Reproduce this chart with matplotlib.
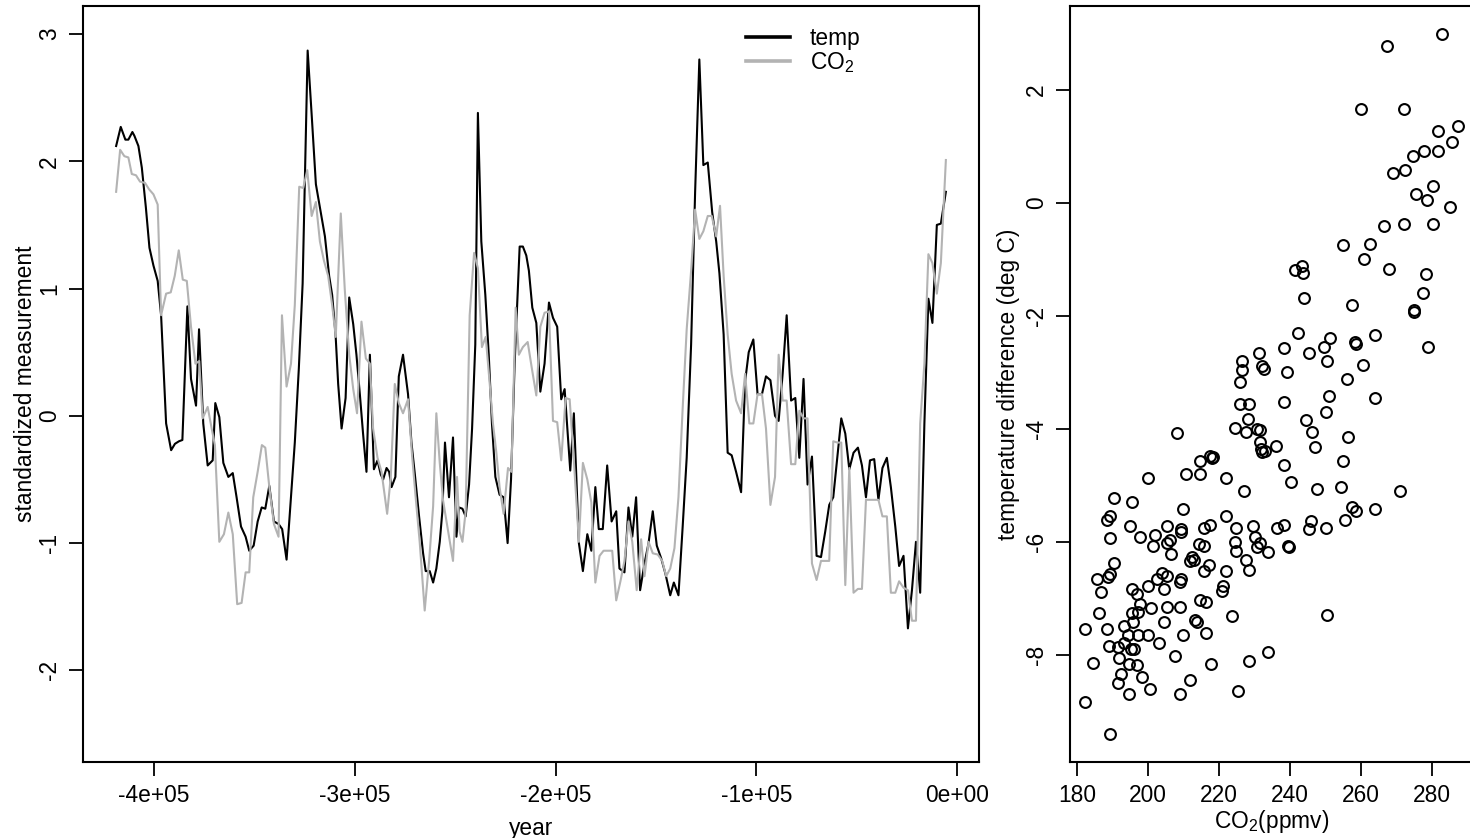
import numpy as np
import matplotlib
matplotlib.use("Agg")
import matplotlib.pyplot as plt
from matplotlib.lines import Line2D

plt.rcParams['font.family'] = ['Liberation Sans', 'DejaVu Sans']
plt.rcParams['mathtext.fontset'] = 'custom'
plt.rcParams['mathtext.rm'] = 'Liberation Sans'
plt.rcParams['mathtext.it'] = 'Liberation Sans:italic'
plt.rcParams['axes.unicode_minus'] = False

# --- left panel: standardized series (years in kyr) ---
temp_kyr = [-418.9, -416.6, -414.3, -412.8, -410.8, -409.8, -407.8, -406.1, -404.1, -402.3,
            -400.3, -398.2, -396.5, -394.0, -391.5, -389.6, -387.6, -385.9, -383.4, -381.6,
            -379.1, -377.6, -375.5, -373.3, -370.8, -369.5, -367.5, -365.5, -363.0, -360.8,
            -358.9, -356.7, -354.4, -352.6, -350.4, -348.4, -346.4, -344.6, -342.6, -340.3,
            -338.0, -336.2, -334.0, -331.8, -329.9, -327.9, -326.0, -323.5, -321.4, -319.4,
            -317.4, -314.9, -312.8, -311.3, -309.6, -308.3, -306.6, -304.6, -302.8, -300.8,
            -299.2, -297.5, -295.9, -294.2, -292.5, -290.5, -288.7, -287.1, -285.9, -284.2,
            -282.9, -281.7, -279.8, -278.1, -276.0, -273.5, -271.8, -270.1, -268.0, -266.0,
            -264.7, -262.7, -261.0, -259.4, -257.7, -256.4, -255.1, -253.1, -251.1, -249.4,
            -248.1, -246.4, -244.8, -243.1, -241.6, -240.0, -238.7, -237.0, -235.0, -233.3,
            -231.7, -230.0, -227.9, -225.9, -223.9, -222.2, -220.4, -217.9, -216.3, -214.6,
            -213.3, -211.6, -209.6, -207.6, -205.5, -203.3, -201.3, -199.2, -197.2, -195.5,
            -192.7, -190.9, -188.4, -186.4, -184.2, -182.2, -180.2, -178.5, -176.5, -174.3,
            -172.1, -169.8, -168.2, -165.7, -163.7, -161.8, -159.9, -157.9, -155.7, -153.7,
            -151.6, -149.6, -147.4, -145.3, -142.9, -141.1, -138.8, -136.7, -134.7, -132.5,
            -130.5, -128.4, -126.4, -124.2, -122.0, -120.0, -118.4, -116.3, -114.3, -112.3,
            -110.1, -107.6, -105.6, -103.8, -101.5, -99.4, -97.2, -95.2, -93.0, -90.7,
            -88.9, -86.9, -84.9, -82.7, -80.6, -78.6, -76.5, -74.5, -72.3, -70.0,
            -67.8, -65.7, -63.7, -61.7, -59.7, -57.7, -55.7, -53.7, -51.6, -49.4,
            -47.4, -45.4, -43.4, -41.3, -39.2, -37.2, -35.0, -33.0, -30.8, -28.9,
            -26.7, -24.5, -22.5, -20.5, -18.4, -16.3, -14.3, -12.3, -10.1, -8.1,
            -5.6]
temp_std = [2.12, 2.27, 2.17, 2.17, 2.23, 2.20, 2.12, 1.95, 1.64, 1.32,
            1.18, 1.06, 0.79, -0.06, -0.27, -0.22, -0.20, -0.19, 0.86, 0.29,
            0.08, 0.68, -0.06, -0.39, -0.35, 0.10, -0.01, -0.37, -0.48, -0.45,
            -0.64, -0.87, -0.95, -1.06, -1.02, -0.83, -0.72, -0.73, -0.55, -0.83,
            -0.85, -0.89, -1.13, -0.64, -0.21, 0.37, 1.04, 2.87, 2.34, 1.82,
            1.64, 1.41, 1.10, 0.95, 0.64, 0.25, -0.10, 0.14, 0.93, 0.72,
            0.48, 0.17, -0.14, -0.44, 0.48, -0.42, -0.35, -0.46, -0.50, -0.41,
            -0.44, -0.56, -0.48, 0.31, 0.48, 0.17, -0.21, -0.46, -0.79, -1.08,
            -1.22, -1.22, -1.31, -1.20, -0.99, -0.75, -0.21, -0.64, -0.17, -0.95,
            -0.72, -0.73, -0.79, -0.54, -0.10, 0.56, 2.38, 1.37, 0.95, 0.48,
            -0.06, -0.48, -0.62, -0.64, -1.00, -0.50, 0.41, 1.33, 1.33, 1.26,
            1.14, 0.85, 0.73, 0.19, 0.41, 0.89, 0.77, 0.70, 0.13, 0.21,
            -0.43, 0.02, -1.00, -1.22, -0.93, -1.06, -0.56, -0.89, -0.89, -0.39,
            -0.83, -0.75, -1.20, -1.23, -0.72, -0.95, -0.64, -1.37, -1.16, -1.00,
            -0.75, -1.02, -1.12, -1.24, -1.41, -1.31, -1.41, -0.87, -0.33, 0.56,
            1.76, 2.80, 1.97, 1.99, 1.60, 1.37, 1.12, 0.64, -0.29, -0.31,
            -0.44, -0.60, 0.27, 0.50, 0.60, 0.17, 0.17, 0.31, 0.28, 0.00,
            -0.04, 0.33, 0.79, 0.12, 0.14, -0.33, 0.29, -0.54, -0.32, -1.10,
            -1.11, -0.91, -0.70, -0.64, -0.33, -0.02, -0.14, -0.42, -0.29, -0.25,
            -0.39, -0.64, -0.35, -0.34, -0.66, -0.41, -0.33, -0.56, -0.87, -1.18,
            -1.10, -1.67, -1.37, -0.99, -1.39, -0.06, 0.92, 0.73, 1.50, 1.51,
            1.76]

co2_kyr = [-418.9, -416.9, -414.8, -412.8, -411.1, -409.0, -407.0, -404.5, -402.5, -400.3,
           -398.2, -396.5, -394.0, -391.7, -389.7, -387.7, -385.7, -383.7, -381.6, -379.4,
           -377.5, -375.8, -373.3, -371.3, -369.7, -367.5, -365.2, -363.0, -360.8, -358.6,
           -356.4, -354.4, -352.6, -350.6, -348.4, -346.3, -344.6, -342.6, -340.3, -338.0,
           -336.3, -334.0, -331.8, -329.9, -327.7, -325.7, -323.7, -321.5, -319.4, -317.4,
           -315.4, -313.3, -311.3, -309.5, -307.0, -305.0, -302.8, -300.8, -298.9, -296.7,
           -294.5, -292.5, -290.9, -288.7, -286.7, -283.9, -282.1, -280.1, -278.1, -276.0,
           -273.5, -271.5, -269.7, -267.7, -265.2, -263.0, -261.0, -259.4, -257.7, -256.1,
           -253.1, -251.1, -249.1, -247.8, -246.4, -244.8, -242.8, -240.6, -238.7, -236.7,
           -234.8, -232.8, -231.2, -229.5, -227.9, -225.9, -223.7, -222.0, -219.9, -218.3,
           -216.3, -213.9, -211.8, -209.6, -207.6, -205.5, -203.3, -201.3, -199.2, -197.2,
           -195.0, -193.0, -190.9, -188.4, -186.4, -184.2, -182.2, -180.2, -178.1, -176.1,
           -174.0, -171.8, -169.8, -167.7, -165.7, -163.7, -161.8, -159.6, -157.4, -155.7,
           -153.7, -151.6, -149.1, -146.9, -144.9, -142.9, -140.8, -138.8, -136.7, -134.7,
           -132.5, -130.5, -128.4, -126.4, -124.2, -122.2, -120.0, -118.1, -116.3, -114.3,
           -112.3, -110.1, -107.6, -105.6, -103.5, -101.5, -99.4, -97.2, -95.2, -93.0,
           -90.7, -88.9, -86.9, -84.9, -82.7, -80.6, -78.6, -76.5, -74.5, -72.3,
           -70.0, -67.8, -65.7, -63.7, -61.7, -59.7, -57.7, -55.7, -53.7, -51.6,
           -49.4, -47.4, -45.4, -43.4, -41.3, -39.2, -37.2, -35.0, -33.0, -30.8,
           -28.9, -26.7, -24.5, -22.5, -20.5, -18.4, -16.3, -14.3, -12.3, -10.1,
           -8.1, -5.6]
co2_std = [1.76, 2.09, 2.04, 2.03, 1.90, 1.89, 1.84, 1.83, 1.78, 1.74,
           1.66, 0.79, 0.96, 0.97, 1.10, 1.30, 1.07, 1.06, 0.70, 0.41,
           0.43, -0.02, 0.07, -0.10, -0.23, -0.99, -0.93, -0.76, -0.93, -1.48,
           -1.47, -1.23, -1.23, -0.64, -0.44, -0.23, -0.25, -0.56, -0.85, -0.95,
           0.79, 0.23, 0.41, 0.87, 1.80, 1.79, 1.93, 1.57, 1.68, 1.37,
           1.22, 1.10, 0.87, 0.62, 1.59, 0.99, 0.48, 0.21, 0.02, 0.74,
           0.45, 0.41, -0.10, -0.33, -0.44, -0.77, -0.48, 0.25, 0.10, 0.02,
           0.13, -0.31, -0.64, -0.99, -1.53, -1.14, -0.71, 0.02, -0.37, -0.66,
           -0.95, -1.14, -0.48, -0.91, -0.99, -0.75, 0.79, 1.28, 1.16, 0.54,
           0.62, 0.25, -0.06, -0.29, -0.56, -0.77, -0.41, -0.44, 0.85, 0.48,
           0.54, 0.58, 0.37, 0.16, 0.70, 0.81, 0.82, -0.04, -0.05, -0.35,
           0.14, 0.13, -0.35, -0.99, -0.37, -0.50, -0.68, -1.31, -1.10, -1.06,
           -1.06, -1.06, -1.45, -1.30, -1.14, -0.83, -0.99, -1.37, -0.97, -1.26,
           -0.99, -1.08, -1.09, -1.14, -1.26, -1.20, -1.04, -0.64, 0.06, 0.68,
           1.14, 1.62, 1.39, 1.45, 1.57, 1.57, 1.41, 1.65, 1.10, 0.64,
           0.33, 0.12, 0.02, 0.33, -0.06, -0.06, 0.17, 0.17, -0.10, -0.70,
           -0.48, 0.48, 0.12, 0.12, -0.38, -0.38, 0.04, -0.02, -0.02, -1.16,
           -1.29, -1.14, -1.14, -1.14, -0.20, -0.21, -0.21, -1.33, -0.41, -1.39,
           -1.36, -1.36, -0.66, -0.66, -0.66, -0.66, -0.79, -0.79, -1.39, -1.39,
           -1.30, -1.35, -1.37, -1.61, -1.61, -0.06, 0.41, 1.27, 1.20, 0.96,
           1.20, 2.01]

year_ticks = [-4e5, -3e5, -2e5, -1e5, 0]
year_tick_labels = ['-4e+05', '-3e+05', '-2e+05', '-1e+05', '0e+00']
std_ticks = [-2, -1, 0, 1, 2, 3]

# --- right panel: scatter of CO2 vs temperature difference ---
co2_ppmv = [231.3, 226.4, 226.4, 232.0, 232.7, 225.9,
            225.9, 228.3, 208.1, 224.5, 227.6, 228.1, 230.6, 231.4, 231.5, 231.8,
            232.2, 233.0, 214.6, 217.3, 217.9, 218.4, 199.9, 210.7, 214.5, 221.9,
            227.1, 190.4, 195.4, 209.8, 189.3, 188.4, 194.9, 221.9, 224.7, 229.4,
            205.4, 209.2, 209.2, 215.6, 217.3, 189.3, 197.7, 202.0, 201.3, 205.4,
            206.2, 206.5, 214.2, 215.8, 230.1, 231.5, 230.8, 233.9, 224.5, 224.7,
            212.3, 213.0, 211.8, 227.6, 228.3, 190.4, 217.2, 215.8, 221.9, 185.7,
            189.3, 188.6, 186.7, 195.4, 197.0, 200.1, 202.4, 204.0, 205.4, 204.5,
            209.2, 209.0, 221.2, 220.8, 197.7, 200.8, 205.3, 209.0, 214.6, 216.2,
            186.3, 195.4, 197.1, 195.7, 193.1, 188.5, 182.3, 204.5, 213.2, 213.9,
            223.6, 194.3, 197.1, 199.9, 209.7, 216.2, 193.2, 189.0, 191.4, 195.2,
            195.9, 203.1, 191.8, 194.5, 196.8, 184.6, 207.6, 217.7, 228.3, 233.9,
            192.4, 191.6, 198.2, 200.6, 194.5, 209.0, 211.8, 225.4, 182.3, 189.3,
            282.7, 267.2, 260.0, 272.1, 281.6, 287.2, 285.7, 277.8, 281.6, 274.5,
            272.4, 269.1, 280.1, 275.5, 278.5, 285.1, 266.5, 272.2, 280.1, 254.8,
            262.5, 260.8, 267.9, 278.3, 277.4, 274.9, 274.9, 241.4, 243.3, 243.6,
            244.0, 257.4, 242.1, 238.3, 245.4, 249.4, 251.3, 250.5, 258.3, 258.5,
            263.9, 278.9, 260.6, 255.9, 239.2, 238.2, 251.0, 263.9, 250.1, 244.5,
            246.1, 256.4, 247.0, 236.0, 238.3, 254.8, 240.2, 247.7, 254.2, 271.0,
            257.3, 258.5, 263.9, 236.2, 238.3, 245.2, 245.9, 250.1, 255.5, 239.4,
            239.6, 250.3]
temp_diff = [-2.66, -2.80, -2.97, -2.89, -2.94, -3.18,
             -3.56, -3.56, -4.08, -3.98, -4.06, -3.83, -4.01, -4.02, -4.24, -4.36,
             -4.42, -4.40, -4.57, -4.48, -4.52, -4.51, -4.88, -4.80, -4.80, -4.88,
             -5.10, -5.23, -5.30, -5.42, -5.54, -5.61, -5.72, -5.55, -5.76, -5.73,
             -5.73, -5.78, -5.83, -5.76, -5.70, -5.93, -5.92, -5.89, -6.07, -6.03,
             -5.97, -6.22, -6.04, -6.07, -5.91, -6.03, -6.10, -6.19, -6.01, -6.17,
             -6.28, -6.32, -6.35, -6.32, -6.50, -6.38, -6.41, -6.52, -6.52, -6.66,
             -6.58, -6.63, -6.90, -6.84, -6.93, -6.79, -6.67, -6.56, -6.60, -6.84,
             -6.66, -6.72, -6.78, -6.87, -7.10, -7.18, -7.15, -7.15, -7.04, -7.07,
             -7.26, -7.26, -7.24, -7.43, -7.49, -7.55, -7.55, -7.43, -7.39, -7.43,
             -7.31, -7.66, -7.65, -7.66, -7.66, -7.62, -7.80, -7.85, -7.87, -7.90,
             -7.90, -7.80, -8.06, -8.17, -8.19, -8.15, -8.03, -8.17, -8.11, -7.96,
             -8.34, -8.50, -8.40, -8.61, -8.70, -8.70, -8.45, -8.65, -8.84, -9.40,
             2.99, 2.78, 1.65, 1.65, 1.26, 1.35, 1.07, 0.92, 0.92, 0.83,
             0.58, 0.52, 0.30, 0.15, 0.04, -0.07, -0.41, -0.38, -0.38, -0.75,
             -0.73, -0.99, -1.17, -1.27, -1.60, -1.90, -1.94, -1.19, -1.12, -1.25,
             -1.68, -1.81, -2.30, -2.58, -2.67, -2.56, -2.40, -2.81, -2.46, -2.50,
             -2.34, -2.56, -2.87, -3.13, -3.00, -3.53, -3.43, -3.45, -3.71, -3.85,
             -4.06, -4.14, -4.33, -4.30, -4.64, -4.58, -4.95, -5.06, -5.04, -5.11,
             -5.38, -5.45, -5.42, -5.76, -5.70, -5.78, -5.64, -5.76, -5.62, -6.08,
             -6.10, -7.30]

co2_ticks = [180, 200, 220, 240, 260, 280]
diff_ticks = [-8, -6, -4, -2, 0, 2]

FS = 16.4
GREY = '#b3b3b3'

fig = plt.figure(figsize=(14.7, 8.38), dpi=100)

def r_style(ax):
    for sp in ax.spines.values():
        sp.set_linewidth(1.5)
    ax.tick_params(direction='out', length=10, width=1.3, pad=6,
                   labelsize=FS, colors='black')
    ax.tick_params(axis='y', labelrotation=90)
    for lab in ax.get_yticklabels():
        lab.set_va('center')

# left: time series
ax1 = fig.add_axes([83/1470, 76/838, 896/1470, 756/838])
ax1.plot(np.array(temp_kyr) * 1000, temp_std, color='black', lw=1.5)
ax1.plot(np.array(co2_kyr) * 1000, co2_std, color=GREY, lw=1.5)
ax1.set_xlim(-435.4e3, 10.9e3)
ax1.set_ylim(-2.72, 3.22)
ax1.set_xticks(year_ticks, year_tick_labels)
ax1.set_yticks(std_ticks)
r_style(ax1)
ax1.set_xlabel('year', fontsize=FS, va='center')
ax1.xaxis.set_label_coords(0.5, -0.088)
ax1.set_ylabel('standardized measurement', fontsize=FS, va='center')
ax1.yaxis.set_label_coords(-0.064, 0.5)

handles = [Line2D([], [], color='black', lw=2.6),
           Line2D([], [], color=GREY, lw=2.6)]
ax1.legend(handles, ['temp', 'CO$_2$'], loc='upper left',
           bbox_to_anchor=(0.740, 0.972), frameon=False, fontsize=FS,
           handlelength=1.95, handletextpad=0.85, labelspacing=0.0,
           borderpad=0, borderaxespad=0)

# right: scatter
ax2 = fig.add_axes([1070/1470, 76/838, 403/1470, 756/838])
ax2.plot(co2_ppmv, temp_diff, linestyle='none', marker='o', ms=7.8,
         mfc='none', mec='black', mew=1.5)
ax2.set_xlim(178.0, 291.5)
ax2.set_ylim(-9.9, 3.48)
ax2.set_xticks(co2_ticks)
ax2.set_yticks(diff_ticks)
r_style(ax2)
ax2.set_xlabel('CO$_2$(ppmv)', fontsize=FS, va='center')
ax2.xaxis.set_label_coords(0.5, -0.079)
ax2.set_ylabel('temperature difference (deg C)', fontsize=FS, va='center')
ax2.yaxis.set_label_coords(-0.152, 0.5)

fig.savefig('out.png', dpi=100)
